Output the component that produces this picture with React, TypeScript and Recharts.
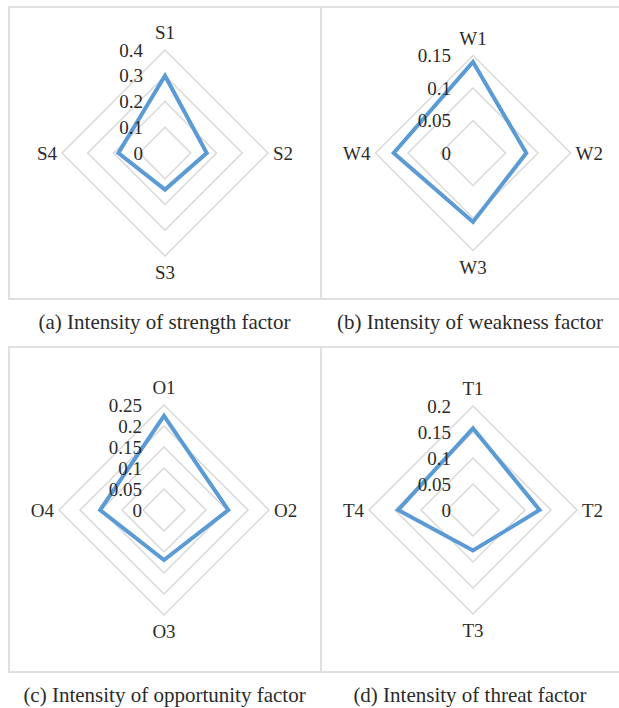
import React from "react";
import { RadarChart, Radar, PolarGrid, PolarAngleAxis, PolarRadiusAxis } from "recharts";

const strengthCats = ["S1", "S2", "S3", "S4"];
const strengthVals = [0.3, 0.162, 0.142, 0.181];
const strengthTicks = [0, 0.1, 0.2, 0.3, 0.4];

const weaknessCats = ["W1", "W2", "W3", "W4"];
const weaknessVals = [0.14, 0.082, 0.106, 0.122];
const weaknessTicks = [0, 0.05, 0.1, 0.15];

const opportunityCats = ["O1", "O2", "O3", "O4"];
const opportunityVals = [0.224, 0.153, 0.119, 0.152];
const opportunityTicks = [0, 0.05, 0.1, 0.15, 0.2, 0.25];

const threatCats = ["T1", "T2", "T3", "T4"];
const threatVals = [0.157, 0.128, 0.078, 0.144];
const threatTicks = [0, 0.05, 0.1, 0.15, 0.2];

const FONT = "'Liberation Serif', 'Times New Roman', serif";
const TEXT = "#2b2b2b";
const GRID = "#d9d9d9";
const BORDER = "#e0e0e0";

const fmt = (v: number) => String(Number(Number(v).toFixed(3)));

type PanelProps = {
  cats: string[];
  vals: number[];
  ticks: number[];
  left: number;
  top: number;
  cx: number;
  cy: number;
  r: number;
};

function Panel({ cats, vals, ticks, left, top, cx, cy, r }: PanelProps) {
  const data = cats.map((c, i) => ({ name: c, value: vals[i] }));
  const max = ticks[ticks.length - 1];

  const angleTick = (props: any) => {
    const { x, y, payload } = props;
    const dx = x - cx;
    const dy = y - cy;
    let tx = x, ty = y, anchor: any = "middle", base: any = "alphabetic";
    if (Math.abs(dy) > Math.abs(dx)) {
      if (dy < 0) { tx = cx; ty = cy - r - 11; }
      else { tx = cx; ty = cy + r + 23; }
    } else if (dx > 0) {
      tx = cx + r + 5; ty = cy; anchor = "start"; base = "central";
    } else {
      tx = cx - r - 5; ty = cy; anchor = "end"; base = "central";
    }
    return (
      <text x={tx} y={ty} textAnchor={anchor} dominantBaseline={base}
        fontFamily={FONT} fontSize={19} fill={TEXT}>
        {payload.value}
      </text>
    );
  };

  const radiusTick = (props: any) => {
    const { x, y, payload } = props;
    return (
      <text x={x - 22} y={y} textAnchor="end" dominantBaseline="central"
        fontFamily={FONT} fontSize={19} fill={TEXT}>
        {fmt(payload.value)}
      </text>
    );
  };

  return (
    <div style={{ position: "absolute", left, top }}>
      <RadarChart width={300} height={290} data={data} cx={cx} cy={cy} outerRadius={r}
        margin={{ top: 0, right: 0, bottom: 0, left: 0 }}>
        <PolarGrid gridType="polygon" radialLines={false} stroke={GRID} strokeWidth={1.5} />
        <PolarAngleAxis dataKey="name" tick={angleTick} tickLine={false} axisLine={false} />
        <PolarRadiusAxis angle={90} type="number" domain={[0, max]} ticks={ticks as any}
          tickCount={ticks.length} axisLine={false} tickLine={false} tick={radiusTick} />
        <Radar dataKey="value" stroke="#5b9bd5" strokeWidth={4} fill="none" fillOpacity={0}
          dot={false} isAnimationActive={false} strokeLinejoin="miter" />
      </RadarChart>
    </div>
  );
}

const captionStyle = (left: number, top: number, width: number): React.CSSProperties => ({
  position: "absolute", left, top, width, height: 26, lineHeight: "26px",
  textAlign: "center", fontFamily: FONT, fontSize: 21, color: TEXT, whiteSpace: "nowrap",
});

const line = (left: number, top: number, width: number, height: number): React.CSSProperties => ({
  position: "absolute", left, top, width, height, background: BORDER,
});

export default function App() {
  return (
    <div style={{ position: "absolute", left: 0, top: 0, width: 619, height: 708, background: "#fff", overflow: "hidden" }}>
      <div style={line(8, 6, 611, 2)} />
      <div style={line(8, 298, 611, 2)} />
      <div style={line(8, 6, 2, 294)} />
      <div style={line(320, 6, 2, 294)} />

      <div style={line(8, 346, 611, 2)} />
      <div style={line(8, 671, 611, 2)} />
      <div style={line(8, 346, 2, 327)} />
      <div style={line(320, 346, 2, 327)} />

      <Panel cats={strengthCats} vals={strengthVals} ticks={strengthTicks}
        left={0} top={0} cx={165} cy={153} r={103} />
      <Panel cats={weaknessCats} vals={weaknessVals} ticks={weaknessTicks}
        left={310} top={0} cx={163} cy={153} r={97.5} />
      <Panel cats={opportunityCats} vals={opportunityVals} ticks={opportunityTicks}
        left={0} top={357} cx={164} cy={153} r={105} />
      <Panel cats={threatCats} vals={threatVals} ticks={threatTicks}
        left={310} top={357} cx={163} cy={153} r={104} />

      <div style={captionStyle(8, 309, 313)}>(a) Intensity of strength factor</div>
      <div style={captionStyle(320, 309, 300)}>(b) Intensity of weakness factor</div>
      <div style={captionStyle(8, 682, 313)}>(c) Intensity of opportunity factor</div>
      <div style={captionStyle(320, 682, 300)}>(d) Intensity of threat factor</div>
    </div>
  );
}
